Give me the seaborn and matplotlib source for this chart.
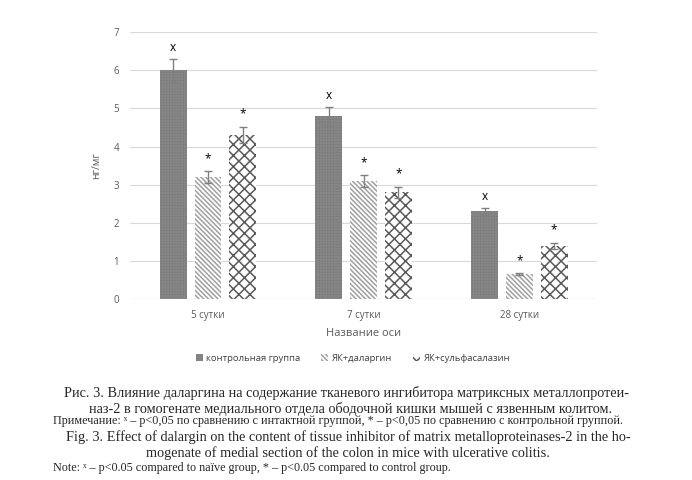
import numpy as np
import pandas as pd
import matplotlib
matplotlib.use("Agg")
import matplotlib.pyplot as plt
import seaborn as sns
from matplotlib.patches import Patch

# Data
days = ['5 сутки', '7 сутки', '28 сутки']
groups = ['контрольная группа', 'ЯК+даларгин', 'ЯК+сульфасалазин']
control = [6.0, 4.8, 2.3]
dalargin = [3.2, 3.1, 0.65]
sulfa = [4.3, 2.8, 1.4]
err_control = [0.3, 0.25, 0.1]
err_dalargin = [0.15, 0.15, 0.02]
err_sulfa = [0.22, 0.15, 0.08]
marks = ['x', '*', '*']

df = pd.DataFrame({
    'day': days * 3,
    'group': [g for g in groups for _ in days],
    'value': control + dalargin + sulfa,
})
errs = [err_control, err_dalargin, err_sulfa]
vals = [control, dalargin, sulfa]

sns.set_theme(style="whitegrid")
plt.rcParams['font.family'] = ['Open Sans', 'DejaVu Sans']
plt.rcParams['hatch.linewidth'] = 1.1

fig = plt.figure(figsize=(6.92, 4.8), dpi=100)
ax = fig.add_axes([0.188, 0.377, 0.675, 0.556])

sns.barplot(data=df, x='day', y='value', hue='group', order=days, hue_order=groups,
            width=0.67, gap=0.23, errorbar=None, ax=ax, legend=False)

faces = ['#777777', 'white', 'white']
edges = ['#858585', '#a0a0a0', '#5a5a5a']
hatches = ['++++++', '\\\\\\\\\\\\\\', 'xxx']

bar_containers = list(ax.containers)
for gi, cont in enumerate(bar_containers):
    for di, bar in enumerate(cont):
        bar.set_facecolor(faces[gi])
        bar.set_edgecolor(edges[gi])
        bar.set_hatch(hatches[gi])
        bar.set_linewidth(0)
        cx = bar.get_x() + bar.get_width() / 2
        ax.errorbar(cx, vals[gi][di], yerr=errs[gi][di], color='#808080',
                    capsize=3, elinewidth=1, capthick=1)
        off = 0.3 if gi == 0 else 0.33
        ax.text(cx, vals[gi][di] + errs[gi][di] + off, marks[gi], ha='center',
                va='center', fontsize=8.5, color='black')

ax.set_ylim(0, 7)
ax.set_xlim(-0.5, 2.5)
ax.set_yticks(range(0, 8))
ax.grid(axis='y', color='#d9d9d9', linewidth=0.8)
ax.grid(axis='x', visible=False)
for s in ax.spines.values():
    s.set_visible(False)
ax.axhline(0, color='#d0d0d0', linewidth=0.8)
ax.tick_params(axis='both', labelsize=7, colors='#595959', length=0, pad=8)
ax.set_ylabel('нг/мг', fontsize=7.5, color='#595959', labelpad=8)
ax.set_xlabel('Название оси', fontsize=8, color='#595959', labelpad=5)

# legend
handles = [Patch(facecolor=faces[i], edgecolor=edges[i], hatch=hatches[i], linewidth=0)
           for i in range(3)]
fig.legend(handles, groups, loc='center', bbox_to_anchor=(0.51, 0.254), ncol=3,
           frameon=False, fontsize=6.8, handlelength=0.7, handleheight=0.7,
           handletextpad=0.4, columnspacing=2.2, labelcolor='#404040')

serif = ['Liberation Serif', 'DejaVu Serif']
fig.text(0.501, 0.181, 'Рис. 3. Влияние даларгина на содержание тканевого ингибитора матриксных металлопротеи-',
         ha='center', va='center', fontsize=10.3, family=serif)
fig.text(0.507, 0.148, 'наз-2 в гомогенате медиального отдела ободочной кишки мышей с язвенным колитом.',
         ha='center', va='center', fontsize=10.3, family=serif)
fig.text(0.0766, 0.122, 'Примечание: ˣ – p<0,05 по сравнению с интактной группой, * – p<0,05 по сравнению с контрольной группой.',
         ha='left', va='center', fontsize=8.75, family=serif)
fig.text(0.503, 0.089, 'Fig. 3. Effect of dalargin on the content of tissue inhibitor of matrix metalloproteinases-2 in the ho-',
         ha='center', va='center', fontsize=10.3, family=serif)
fig.text(0.503, 0.056, 'mogenate of medial section of the colon in mice with ulcerative colitis.',
         ha='center', va='center', fontsize=10.3, family=serif)
fig.text(0.0766, 0.025, 'Note: ˣ – p<0.05 compared to naïve group, * – p<0.05 compared to control group.',
         ha='left', va='center', fontsize=8.75, family=serif)

fig.savefig('out.png', dpi=100)
